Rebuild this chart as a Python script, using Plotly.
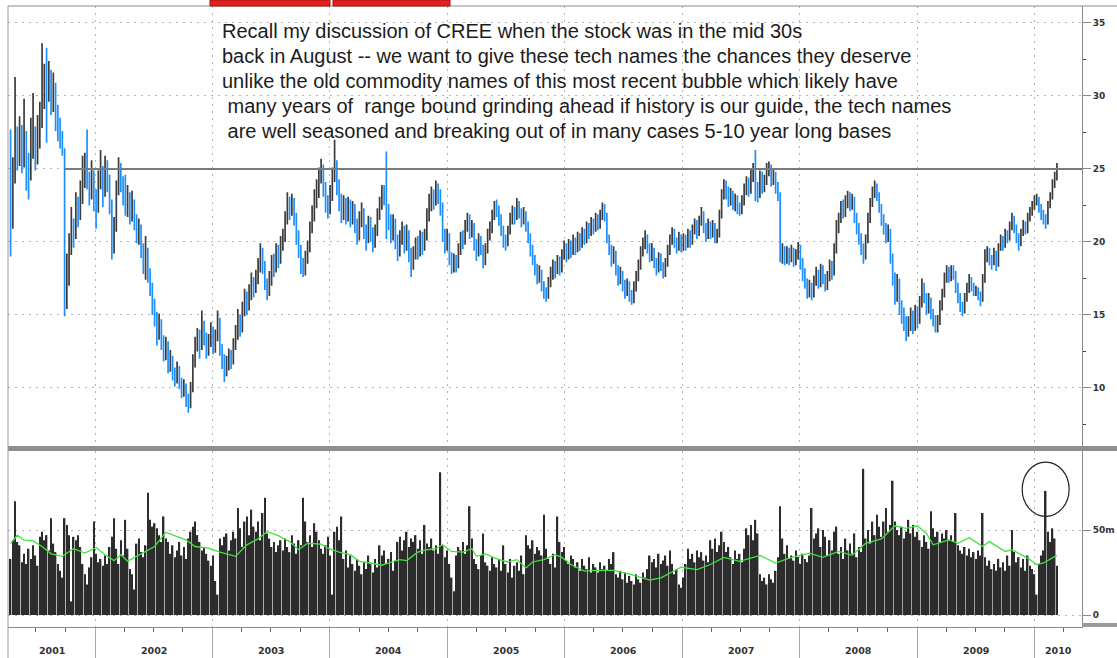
import pandas as pd
import plotly.graph_objects as go

# ---------------- data (weekly bars) ----------------
first_week = "2001-04-13"
first_open = 22.4

close = [
    21.5, 24.5, 26.8, 25.9, 27.2, 25.6, 26.9, 25.3, 24.6, 26.2,
    27.4, 25.8, 26.9, 28.3, 29.8, 31.0, 30.2, 31.3, 29.5, 30.4,
    28.6, 27.9, 27.1, 26.4,
    16.5, 17.5, 19.5, 21.0, 20.5, 22.5, 21.8, 23.0, 24.2, 25.3,
    24.1, 23.2, 24.5, 23.1, 22.4, 24.0, 24.8, 23.5, 25.0, 24.2,
    22.7, 19.5, 21.0, 23.5, 25.1,
    23.9, 23.2, 22.4, 22.8, 21.9, 22.3, 21.5, 20.6, 20.9, 19.4,
    18.6, 19.3, 17.8, 16.9, 15.6, 14.9, 13.8, 14.4, 13.2, 12.4,
    13.0, 11.6, 11.9, 11.0, 10.6, 11.2, 10.4, 9.8, 10.1, 9.2,
    8.8, 10.0, 11.8,
    12.9, 13.6, 12.8, 14.2, 13.4, 12.6, 13.1, 13.9, 12.8, 13.5,
    14.6, 12.7, 11.9, 11.2, 11.6, 12.1, 11.8, 12.9, 13.6, 14.5,
    14.0, 15.2, 16.1, 15.6, 16.4, 17.2, 16.8, 17.5, 18.2, 19.3,
    18.5, 17.2, 16.6, 17.4, 18.6, 18.2, 19.4, 18.8, 19.8, 20.3,
    21.6, 22.7, 22.2, 22.9, 21.8, 20.4, 19.6, 18.3, 18.0,
    18.9, 19.6, 21.0, 21.8, 22.9, 23.4, 24.6, 25.2, 23.8, 22.6,
    22.1, 23.3, 24.6, 25.3, 23.9, 22.8, 22.0, 22.6, 21.8, 22.5,
    21.6, 22.3, 21.1, 20.5, 21.5, 22.1, 20.8, 20.2, 21.3, 20.6,
    20.0, 20.7, 21.8, 22.6, 23.4,
    23.1, 22.0, 21.4, 20.6, 21.3, 20.1, 19.4, 20.2, 20.8, 19.8,
    20.5, 19.2, 18.4, 19.1, 19.8, 19.3, 20.3, 19.7, 20.4, 21.8,
    22.6, 23.1, 22.8, 23.6, 23.2, 22.4, 20.5, 19.8, 20.3, 19.0,
    18.2, 18.7, 18.4, 19.5, 20.2, 20.0, 21.1, 21.6, 20.7, 21.0,
    19.8, 19.3, 20.1, 19.6, 18.6, 19.4, 20.5, 20.9, 21.8, 22.4,
    22.2, 21.6, 20.9, 20.2, 19.9, 20.7, 21.6, 22.1, 21.7, 22.5,
    22.0, 21.5, 21.9, 21.2, 20.4, 19.5, 18.9, 18.2, 17.6, 17.9,
    17.0, 16.6, 16.3, 17.2, 17.8, 18.3, 18.0, 18.7,
    18.2, 19.1, 19.6, 19.0, 19.8, 19.3, 20.1, 19.5, 20.3, 19.8,
    20.6, 20.2, 21.0, 20.6, 21.3, 20.9, 21.6, 21.2, 21.8, 22.3,
    21.9, 20.2, 19.6, 18.8, 19.2, 18.1, 17.5, 17.8, 17.0, 16.6,
    17.1, 16.3, 16.0, 16.9, 17.6, 18.4, 19.3, 19.9, 20.2, 19.6,
    19.0, 19.4, 18.6, 18.2, 18.9, 18.4, 17.8, 18.5, 19.4, 20.1,
    20.6, 20.0, 19.6, 20.3, 19.7, 20.2, 19.8, 20.5, 20.0, 20.8,
    21.2, 20.6, 21.4, 21.9, 21.0, 20.4, 21.2, 20.6, 21.1, 20.2,
    20.5, 21.8, 23.2, 23.9,
    23.4, 22.9, 23.3, 22.6, 22.9, 22.3, 22.1, 22.8, 23.6, 24.1,
    23.5, 24.6, 25.0, 23.6, 23.2, 24.5, 23.8, 24.2, 25.0, 25.1,
    24.3, 24.6, 23.8, 23.2, 19.0, 19.5, 18.8, 19.3, 18.9, 19.4,
    18.7, 19.1, 19.6, 18.5, 17.8, 17.2, 16.6, 16.9, 16.4, 17.3,
    17.9, 17.2, 18.1, 17.5, 17.0, 17.6, 18.4, 17.9, 19.5, 21.0,
    21.6, 22.4, 22.0, 22.8, 23.1, 22.6, 22.9, 21.8, 21.0, 20.3,
    19.6, 19.0, 20.1, 21.6, 22.6, 23.4, 23.8, 23.2, 22.4, 21.6,
    21.0, 20.4, 20.7, 18.9, 17.6, 16.3, 17.2, 15.6, 15.0, 14.6,
    13.9, 14.4,
    14.9, 14.2, 15.3, 14.6, 15.8, 16.9, 16.2, 15.4, 16.0, 15.1,
    14.6, 14.2, 14.5, 15.6, 16.4, 17.5, 18.0, 17.6, 18.1, 17.8,
    16.9, 16.2, 15.6, 15.3, 16.1, 16.8, 17.4, 16.9, 16.6, 16.7,
    16.3, 16.0, 17.4, 19.1, 19.4, 18.8, 18.6, 19.3, 18.4, 19.6,
    20.2, 19.8, 20.6, 20.3, 21.1, 21.6, 21.0, 20.3, 19.9, 20.6,
    21.2, 20.8, 21.7, 22.1, 22.5, 22.9, 23.0, 22.4, 21.9, 21.6,
    21.3, 22.5, 23.1, 24.0, 24.5, 25.1,
]

high = [
    27.7, 25.8, 31.3, 27.9, 28.6, 28.0, 29.8, 27.6, 26.1, 28.5,
    30.2, 27.9, 28.7, 29.6, 33.6, 32.2, 33.3, 32.4, 31.8, 31.6,
    30.9, 29.4, 28.5, 27.6,
    26.4, 19.2, 20.6, 22.4, 21.6, 23.4, 23.1, 24.2, 25.9, 26.1,
    27.7, 24.8, 25.6, 24.9, 23.6, 24.9, 26.3, 25.2, 25.9, 25.6,
    24.6, 22.9, 21.7, 24.2, 25.8,
    25.4, 24.5, 24.6, 23.9, 23.4, 23.5, 22.9, 21.9, 21.6, 21.2,
    19.9, 20.4, 19.6, 18.2, 17.2, 16.1, 15.2, 15.1, 14.7, 13.6,
    13.5, 13.2, 12.6, 12.2, 11.4, 11.8, 11.5, 10.7, 10.6, 10.3,
    9.6, 10.4, 12.3,
    13.5, 14.1, 14.0, 15.3, 14.6, 13.8, 13.7, 14.5, 14.2, 14.0,
    15.3, 14.8, 13.0, 12.3, 12.2, 12.7, 12.6, 13.4, 14.3, 15.4,
    15.0, 15.9, 16.8, 16.6, 17.1, 17.9, 17.6, 18.1, 18.9, 19.9,
    19.6, 18.7, 17.5, 18.0, 19.1, 19.2, 19.9, 19.8, 20.4, 20.9,
    22.1, 23.4, 23.1, 23.3, 23.0, 22.0, 20.8, 19.8, 18.9,
    19.4, 20.1, 21.4, 22.5, 23.6, 24.3, 25.1, 25.7, 25.3, 24.1,
    23.2, 23.9, 25.1, 27.0, 25.6, 24.3, 23.3, 23.2, 23.0, 23.1,
    22.9, 22.8, 22.6, 21.6, 22.1, 22.7, 22.3, 21.2, 21.8, 21.7,
    21.0, 21.2, 22.3, 23.1, 23.9,
    23.9, 26.2, 22.6, 21.9, 21.9, 21.6, 20.5, 20.8, 21.4, 21.1,
    21.2, 20.8, 19.6, 19.7, 20.3, 20.4, 20.8, 20.7, 20.9, 22.3,
    23.3, 23.8, 23.6, 24.2, 24.0, 23.6, 22.7, 20.9, 20.9, 20.6,
    19.3, 19.2, 19.1, 19.9, 20.7, 20.8, 21.5, 22.0, 21.9, 21.5,
    21.3, 20.2, 20.6, 20.4, 19.8, 19.9, 20.9, 21.4, 22.2, 22.8,
    22.9, 22.5, 21.9, 21.1, 20.5, 21.1, 22.0, 22.5, 22.4, 23.0,
    22.8, 22.3, 22.4, 22.1, 21.4, 20.6, 19.8, 19.1, 18.5, 18.4,
    18.1, 17.3, 16.9, 17.6, 18.3, 18.8, 18.7, 19.1,
    19.0, 19.5, 20.1, 19.9, 20.2, 20.1, 20.5, 20.3, 20.7, 20.6,
    21.0, 20.9, 21.4, 21.3, 21.7, 21.6, 22.0, 21.9, 22.2, 22.7,
    22.6, 22.0, 20.5, 19.8, 19.7, 19.4, 18.4, 18.3, 18.0, 17.4,
    17.5, 17.3, 16.7, 17.3, 18.0, 18.8, 19.7, 20.3, 20.8, 20.5,
    19.9, 19.9, 19.6, 18.9, 19.3, 19.2, 18.6, 18.9, 19.8, 20.5,
    21.0, 20.9, 20.3, 20.7, 20.5, 20.6, 20.5, 20.9, 20.8, 21.2,
    21.6, 21.5, 21.8, 22.4, 22.1, 21.3, 21.6, 21.4, 21.5, 21.3,
    20.9, 22.2, 23.6, 24.3,
    24.2, 23.8, 23.7, 23.5, 23.3, 23.2, 22.7, 23.2, 24.0, 24.5,
    24.4, 25.0, 25.4, 26.3, 24.1, 24.9, 24.8, 24.6, 25.4, 25.5,
    25.3, 25.0, 24.8, 24.1, 23.4, 19.9, 19.7, 19.7, 19.6, 19.8,
    19.6, 19.5, 20.0, 19.8, 18.9, 18.2, 17.5, 17.4, 17.2, 17.7,
    18.3, 18.1, 18.5, 18.4, 17.8, 18.0, 18.8, 18.7, 19.9, 21.5,
    22.0, 22.8, 22.9, 23.2, 23.5, 23.4, 23.3, 23.1, 22.0, 21.3,
    20.6, 19.9, 20.5, 22.0, 23.0, 23.8, 24.2, 24.0, 23.4, 22.6,
    21.9, 21.3, 21.2, 20.9, 19.2, 17.9, 17.8, 17.5, 16.0, 15.5,
    14.9, 14.9,
    15.5, 15.3, 15.7, 15.6, 16.3, 17.5, 17.2, 16.5, 16.5, 16.2,
    15.4, 15.0, 15.0, 16.0, 16.8, 17.9, 18.4, 18.3, 18.4, 18.4,
    18.0, 17.2, 16.5, 15.9, 16.5, 17.2, 17.8, 17.6, 17.2, 17.0,
    16.9, 16.6, 17.8, 19.5, 19.7, 19.6, 19.1, 19.6, 19.4, 19.9,
    20.5, 20.4, 20.9, 20.8, 21.4, 22.0, 21.8, 21.2, 20.6, 20.9,
    21.5, 21.4, 22.0, 22.4, 22.8, 23.2, 23.3, 23.1, 22.6, 22.2,
    21.9, 22.8, 23.4, 24.3, 24.8, 25.4,
]

low = [
    19.0, 20.9, 24.0, 24.9, 25.2, 24.7, 25.1, 23.5, 22.9, 24.2,
    25.7, 24.9, 25.3, 26.4, 27.8, 29.1, 26.8, 29.6, 28.7, 28.9,
    27.6, 26.9, 26.4, 25.9,
    14.9, 15.4, 17.0, 19.1, 19.6, 20.2, 21.0, 21.5, 22.6, 23.7,
    23.6, 22.5, 22.9, 22.1, 20.9, 22.0, 23.6, 22.4, 23.1, 23.4,
    21.9, 18.8, 19.2, 20.7, 23.2,
    23.4, 22.5, 21.8, 21.7, 21.2, 21.4, 20.8, 19.9, 19.8, 18.9,
    17.8, 17.4, 17.2, 16.3, 15.0, 14.2, 12.9, 13.3, 12.6, 11.8,
    11.9, 11.0, 11.1, 10.5, 10.1, 10.3, 9.9, 9.3, 9.4, 8.7,
    8.3, 8.6, 9.7,
    11.4, 12.5, 12.0, 12.6, 12.9, 12.0, 12.2, 12.8, 12.3, 12.4,
    13.2, 12.2, 11.3, 10.4, 10.8, 11.2, 11.3, 11.6, 12.6, 13.3,
    13.5, 13.8, 14.9, 15.0, 15.3, 16.0, 16.2, 16.5, 17.1, 17.9,
    17.8, 16.7, 16.0, 16.3, 17.0, 17.6, 17.9, 18.2, 18.5, 19.4,
    20.0, 21.2, 21.5, 21.8, 21.1, 19.8, 18.9, 17.8, 17.6,
    17.7, 18.5, 19.3, 20.6, 21.4, 22.3, 23.0, 24.0, 23.1, 22.0,
    21.6, 21.9, 22.8, 24.1, 23.2, 22.1, 21.3, 21.5, 21.2, 21.4,
    21.0, 21.2, 20.6, 19.8, 20.1, 21.0, 20.2, 19.4, 19.9, 20.0,
    19.3, 19.6, 20.4, 21.5, 22.2,
    22.5, 20.2, 20.8, 19.9, 20.1, 19.5, 18.7, 19.0, 19.8, 19.2,
    19.4, 18.6, 17.6, 18.1, 18.8, 18.8, 19.0, 19.1, 19.4, 20.1,
    21.4, 22.1, 22.2, 22.5, 22.6, 21.8, 20.0, 19.2, 19.4, 18.4,
    17.8, 17.9, 17.9, 18.2, 19.1, 19.5, 19.8, 20.7, 20.2, 20.3,
    19.4, 18.7, 19.0, 19.1, 18.2, 18.4, 19.2, 20.1, 20.6, 21.5,
    21.7, 21.1, 20.4, 19.6, 19.4, 19.7, 20.5, 21.2, 21.2, 21.5,
    21.6, 21.0, 21.2, 20.7, 19.9, 19.0, 18.4, 17.7, 17.1, 17.2,
    16.6, 16.1, 15.9, 16.1, 16.9, 17.4, 17.5, 17.8,
    17.7, 17.9, 18.8, 18.6, 18.8, 18.9, 19.1, 19.1, 19.3, 19.4,
    19.6, 19.8, 19.9, 20.2, 20.4, 20.5, 20.7, 20.8, 20.9, 21.5,
    21.4, 19.9, 19.1, 18.3, 18.5, 17.7, 17.0, 17.1, 16.6, 16.1,
    16.3, 15.9, 15.7, 15.8, 16.6, 17.3, 18.1, 19.0, 19.5, 19.2,
    18.6, 18.7, 18.2, 17.7, 17.9, 18.0, 17.5, 17.6, 18.3, 19.1,
    19.8, 19.6, 19.2, 19.4, 19.3, 19.4, 19.4, 19.6, 19.6, 19.8,
    20.5, 20.2, 20.4, 21.1, 20.6, 20.0, 20.2, 20.2, 20.3, 19.9,
    19.9, 20.3, 21.6, 22.9,
    22.9, 22.4, 22.5, 22.2, 22.1, 21.9, 21.8, 21.9, 22.5, 23.2,
    23.1, 23.3, 24.1, 22.8, 22.7, 23.0, 23.3, 23.4, 23.9, 24.5,
    23.8, 23.9, 23.3, 22.8, 18.6, 18.5, 18.4, 18.5, 18.4, 18.6,
    18.3, 18.4, 18.8, 18.1, 17.3, 16.8, 16.1, 16.2, 16.0, 16.2,
    17.0, 16.8, 16.9, 17.1, 16.6, 16.7, 17.3, 17.4, 17.7, 19.2,
    20.6, 21.3, 21.6, 21.7, 22.3, 22.1, 22.2, 21.3, 20.5, 19.8,
    19.1, 18.5, 18.8, 19.9, 21.3, 22.4, 23.0, 22.8, 22.0, 21.1,
    20.5, 19.9, 20.0, 18.5, 17.0, 15.7, 15.9, 15.0, 14.4, 13.9,
    13.2, 13.5,
    13.9, 13.7, 13.9, 14.1, 14.4, 15.5, 15.8, 15.0, 15.1, 14.7,
    14.2, 13.8, 13.8, 14.3, 15.3, 16.2, 17.2, 17.2, 17.3, 17.4,
    16.5, 15.8, 15.2, 14.9, 15.1, 15.9, 16.5, 16.6, 16.3, 16.3,
    16.0, 15.6, 15.9, 17.2, 18.6, 18.4, 18.1, 18.4, 18.0, 18.3,
    19.4, 19.4, 19.6, 19.9, 20.1, 20.8, 20.6, 19.9, 19.4, 19.7,
    20.4, 20.5, 20.6, 21.4, 21.8, 22.2, 22.5, 22.0, 21.5, 21.2,
    20.9, 21.2, 22.3, 22.9, 23.7, 24.2,
]

# weekly volume, millions of shares
volume = [
    33, 44, 67, 43, 41, 31, 36, 30, 39, 33, 41, 35, 29, 46, 49, 44, 47, 38, 57, 42,
    37, 30, 26, 22, 57, 53, 47, 8, 46, 44, 47, 40, 30, 24, 18, 28, 34, 55, 36, 31,
    33, 29, 35, 30, 40, 46, 57, 39, 30, 44, 35, 56, 39, 27, 24, 15, 42, 45, 37, 34,
    41, 72, 56, 52, 54, 51, 47, 43, 58, 45, 43, 36, 41, 34, 38, 43, 35, 40, 33, 45,
    49, 52, 55, 47, 43, 38, 40, 36, 32, 29, 35, 20, 12, 45, 41, 46, 48, 38, 44, 49,
    45, 63, 51, 40, 55, 58, 47, 62, 52, 49, 55, 44, 60, 69, 48, 45, 40, 43, 37, 41,
    44, 38, 45, 40, 37, 47, 42, 36, 44, 41, 69, 55, 43, 47, 40, 54, 49, 44, 39, 36,
    41, 46, 35, 12, 49, 52, 44, 58, 33, 38, 28, 35, 30, 26, 33, 29, 24, 31, 27, 35,
    30, 25, 33, 28, 41, 35, 38, 30, 33, 37, 26, 32, 43, 46, 38, 44, 49, 40, 45, 43,
    47, 39, 44, 36, 53, 42, 40, 45, 38, 41, 36, 84, 41, 34, 38, 30, 22, 14, 35, 40,
    38, 43, 36, 41, 64, 45, 33, 30, 27, 35, 48, 31, 29, 26, 34, 30, 28, 33, 26, 41,
    30, 25, 33, 22, 29, 31, 26, 35, 24, 47, 41, 39, 44, 36, 40, 38, 35, 59, 39, 33,
    30, 36, 28, 58, 43, 37, 40, 32, 30, 35, 33, 28, 31, 26, 33, 29, 27, 34, 25, 30,
    28, 25, 31, 27, 29, 26, 33, 30, 37, 24, 22, 26, 21, 25, 19, 23, 20, 18, 24, 21,
    19, 25, 22, 27, 35, 31, 33, 28, 36, 30, 32, 35, 29, 38, 30, 24, 27, 18, 16, 22,
    30, 39, 33, 36, 31, 38, 34, 37, 32, 35, 31, 44, 39, 45, 37, 41, 49, 43, 37, 40,
    34, 30, 38, 33, 36, 31, 39, 51, 47, 53, 44, 56, 48, 24, 20, 22, 18, 24, 21, 19,
    26, 34, 64, 45, 36, 41, 33, 35, 32, 38, 34, 30, 36, 33, 31, 35, 63, 45, 48, 51,
    40, 50, 46, 35, 44, 38, 49, 52, 36, 40, 33, 45, 38, 42, 36, 48, 34, 40, 37, 86,
    45, 50, 42, 55, 47, 59, 52, 46, 55, 63, 49, 53, 79, 55, 50, 47, 52, 45, 49, 56,
    48, 53, 46, 49, 44, 40, 47, 43, 39, 61, 51, 46, 49, 43, 48, 45, 50, 44, 47, 43,
    60, 41, 38, 36, 40, 35, 39, 34, 37, 33, 38, 35, 60, 34, 29, 32, 27, 30, 26, 33,
    28, 31, 26, 35, 29, 50, 37, 31, 34, 28, 33, 26, 35, 29, 27, 24, 12, 30, 35, 38,
    73, 49, 43, 51, 45, 29,
]

# green volume average line, read at these week numbers
ma_week = [0, 3, 6, 10, 14, 18, 23, 28, 33, 38, 42, 46, 49, 52, 56, 61, 64, 69, 73, 78,
           82, 88, 93, 100, 105, 110, 114, 119, 124, 128, 132, 138, 141, 146, 151, 155,
           160, 165, 168, 173, 176, 181, 185, 189, 192, 196, 201, 205, 207, 211, 217,
           221, 225, 229, 232, 237, 242, 245, 249, 255, 260, 268, 276, 284, 289, 298,
           305, 311, 317, 324, 333, 340, 346, 355, 361, 368, 374, 380, 387, 393, 398,
           403, 407, 410, 417, 421, 426, 432, 435, 442, 445, 452, 456, 459, 465]
ma_value = [42, 47, 44, 43.6, 40.3, 36, 34.5, 39, 36.4, 39.7, 35.5, 32, 35.5, 31.6, 34.5,
            38.4, 40.3, 48.6, 46.5, 44.2, 40.3, 39.3, 37, 34.5, 41.3, 44.8, 49, 46.7, 43.2,
            38.4, 42.2, 41.7, 39.3, 37, 35.5, 31.6, 30.6, 29.3, 30.6, 32.6, 32, 37, 38.4,
            39, 41.3, 37.4, 37, 39, 34.5, 35.9, 32.6, 31.2, 32.6, 27.7, 31.2, 32.6, 35.5,
            33.9, 29.7, 25.8, 26.2, 26.2, 23.8, 20.5, 21.9, 28.1, 26.7, 29.7, 33.9, 31.6,
            35.1, 30.6, 33.5, 36.4, 33.9, 37.4, 35.1, 42.2, 44.8, 52.5, 51, 52.5, 48, 41.3,
            44.2, 42.2, 45.5, 40.3, 43.2, 37.4, 38.4, 33.5, 29.7, 30.6, 35.1]

price_ticks = [10, 15, 20, 25, 30, 35]
volume_ticks = [0, 50]
volume_tick_text = ["0", "50m"]
years = list(range(2001, 2011))
resistance = 25.0
resistance_start_week = 24
circled_week = 460

notes = [
    "Recall my discussion of CREE when the stock was in the mid 30s",
    "back in August -- we want to give these tech names the chances they deserve",
    "unlike the old commodity names of this most recent bubble which likely have",
    " many years of  range bound grinding ahead if history is our guide, the tech names",
    " are well seasoned and breaking out of in many cases 5-10 year long bases",
]

# ---------------- build ----------------
n = min(len(close), len(high), len(low), len(volume))
close = close[:n]
dates = pd.date_range(first_week, periods=n, freq="W-FRI")
opens = [first_open] + close[:-1]
hi = [max(h, o, c) for h, o, c in zip(high[:n], opens, close)]
lo = [min(l, o, c) for l, o, c in zip(low[:n], opens, close)]

x_left = pd.Timestamp("2001-04-05")
x_right = pd.Timestamp("2010-05-29")
x_range = [x_left.strftime("%Y-%m-%d"), x_right.strftime("%Y-%m-%d")]
year_starts = [f"{y}-01-01" for y in years[1:]]

W, H = 1117, 658
ML, MR, MT, MB = 8, 35, 6, 31
PW, PH = W - ML - MR, H - MT - MB


def py(px):  # pixel row -> paper y
    return (H - MB - px) / PH


def pxx(px):  # pixel column -> paper x
    return (px - ML) / PW


GRID = "#b4b4b4"
DOT = "2px,5px"
BLUE = "#1e8fff"
TXT = "#333333"

fig = go.Figure()
fig.add_trace(go.Ohlc(
    x=dates, open=opens, high=hi, low=lo, close=close,
    increasing=dict(line=dict(color="#3c3c3c", width=1.7)),
    decreasing=dict(line=dict(color=BLUE, width=1.7)),
    tickwidth=0.35, xaxis="x", yaxis="y", hoverinfo="skip", showlegend=False,
))
fig.add_trace(go.Bar(
    x=dates, y=volume[:n], marker=dict(color="#2c2c2c", line=dict(width=0)),
    xaxis="x2", yaxis="y2", hoverinfo="skip", showlegend=False,
))
fig.add_trace(go.Scatter(
    x=[dates[i] for i in ma_week], y=ma_value, mode="lines",
    line=dict(color="#3fe23f", width=1.3), xaxis="x2", yaxis="y2",
    hoverinfo="skip", showlegend=False,
))

tickfont = dict(family="DejaVu Sans", size=9, color=TXT, weight="bold")

price_bottom = py(446)
vol_top = py(451)

fig.update_layout(
    width=W, height=H, margin=dict(l=ML, r=MR, t=MT, b=MB, autoexpand=False),
    paper_bgcolor="white", plot_bgcolor="white", bargap=0.3, showlegend=False,
    xaxis=dict(domain=[0, 1], anchor="y", range=x_range, type="date", automargin=False,
               rangeslider=dict(visible=False), showticklabels=False, ticks="",
               tickmode="array", tickvals=year_starts, showgrid=True,
               gridcolor=GRID, griddash=DOT, gridwidth=1, zeroline=False, showline=False),
    xaxis2=dict(domain=[0, 1], anchor="y2", range=x_range, type="date", matches="x",
                automargin=False,
                showticklabels=False, ticks="outside", ticklen=MB, tickcolor="#a8a8a8",
                tickwidth=1, tickmode="array", tickvals=year_starts, showgrid=True,
                gridcolor=GRID, griddash=DOT, gridwidth=1, zeroline=False,
                showline=True, linecolor="#8a8a8a", linewidth=1,
                minor=dict(ticks="outside", ticklen=4, tickcolor="#666666",
                           dtick="M3", tick0="2001-01-01", showgrid=False)),
    yaxis=dict(domain=[price_bottom, 1], anchor="x", side="right", range=[6.02, 36.16],
               automargin=False,
               tickmode="array", tickvals=price_ticks, ticks="outside", ticklen=8,
               tickcolor="#8a8a8a", tickfont=tickfont, showgrid=True, gridcolor=GRID,
               griddash=DOT, zeroline=False, showline=True, linecolor="#8a8a8a",
               minor=dict(ticks="outside", ticklen=3, tickcolor="#444444", dtick=2.5,
                          tick0=0, showgrid=False)),
    yaxis2=dict(domain=[0, vol_top], anchor="x2", side="right", range=[-7.06, 96.5],
                automargin=False,
                tickmode="array", tickvals=volume_ticks, ticktext=volume_tick_text,
                ticks="outside", ticklen=8, tickcolor="#8a8a8a", tickfont=tickfont,
                showgrid=True, gridcolor=GRID, griddash=DOT, zeroline=False,
                showline=True, linecolor="#8a8a8a"),
)

shapes = [
    # panel separator band
    dict(type="rect", xref="paper", yref="paper", x0=0, x1=pxx(W), y0=vol_top,
         y1=price_bottom, fillcolor="#8e8e8e", line=dict(width=0), layer="above"),
    # small band at bottom right
    dict(type="rect", xref="paper", yref="paper", x0=1, x1=pxx(W), y0=0, y1=py(623),
         fillcolor="#9a9a9a", line=dict(width=0)),
    # left border
    dict(type="line", xref="paper", yref="paper", x0=0, x1=0, y0=py(H), y1=1,
         line=dict(color="#9a9a9a", width=1)),
    # top border
    dict(type="line", xref="paper", yref="paper", x0=0, x1=pxx(W), y0=1, y1=1,
         line=dict(color="#8a8a8a", width=1)),
    # header buttons
    dict(type="rect", xref="paper", yref="paper", x0=pxx(210), x1=pxx(330), y0=1,
         y1=py(0), fillcolor="#e02222", line=dict(color="#b01010", width=1)),
    dict(type="rect", xref="paper", yref="paper", x0=pxx(333), x1=pxx(450), y0=1,
         y1=py(0), fillcolor="#e02222", line=dict(color="#b01010", width=1)),
    # resistance line
    dict(type="line", xref="x", yref="y", x0=dates[resistance_start_week], x1=x_right,
         y0=resistance, y1=resistance, line=dict(color="#7a7a7a", width=2)),
    # circle around the volume spike
    dict(type="circle", xref="x2", yref="y2",
         x0=dates[circled_week] - pd.Timedelta(days=73),
         x1=dates[circled_week] + pd.Timedelta(days=73),
         y0=58, y1=90, line=dict(color="#222222", width=1.2)),
]
fig.update_layout(shapes=shapes)

annotations = []
note_rows = [31, 56, 81, 106, 131]
for txt, row in zip(notes, note_rows):
    t = txt.replace("  ", " \u00a0")
    if t.startswith(" "):
        t = "\u00a0" + t[1:]
    annotations.append(dict(text=t, xref="paper", yref="paper", x=pxx(220), y=py(row),
                            xanchor="left", yanchor="middle", showarrow=False,
                            font=dict(family="Liberation Sans", size=20, color="#1c1c1c")))
for y in years:
    a = max(pd.Timestamp(f"{y}-01-01"), x_left)
    b = min(pd.Timestamp(f"{y + 1}-01-01"), x_right)
    mid = a + (b - a) / 2
    annotations.append(dict(text=str(y), xref="x2", yref="paper",
                            x=mid.strftime("%Y-%m-%d %H:%M"), y=py(658),
                            xanchor="center", yanchor="bottom", showarrow=False,
                            font=dict(family="DejaVu Sans", size=9.5, color=TXT,
                                      weight="bold")))
fig.update_layout(annotations=annotations)

fig.write_html("out.html")
